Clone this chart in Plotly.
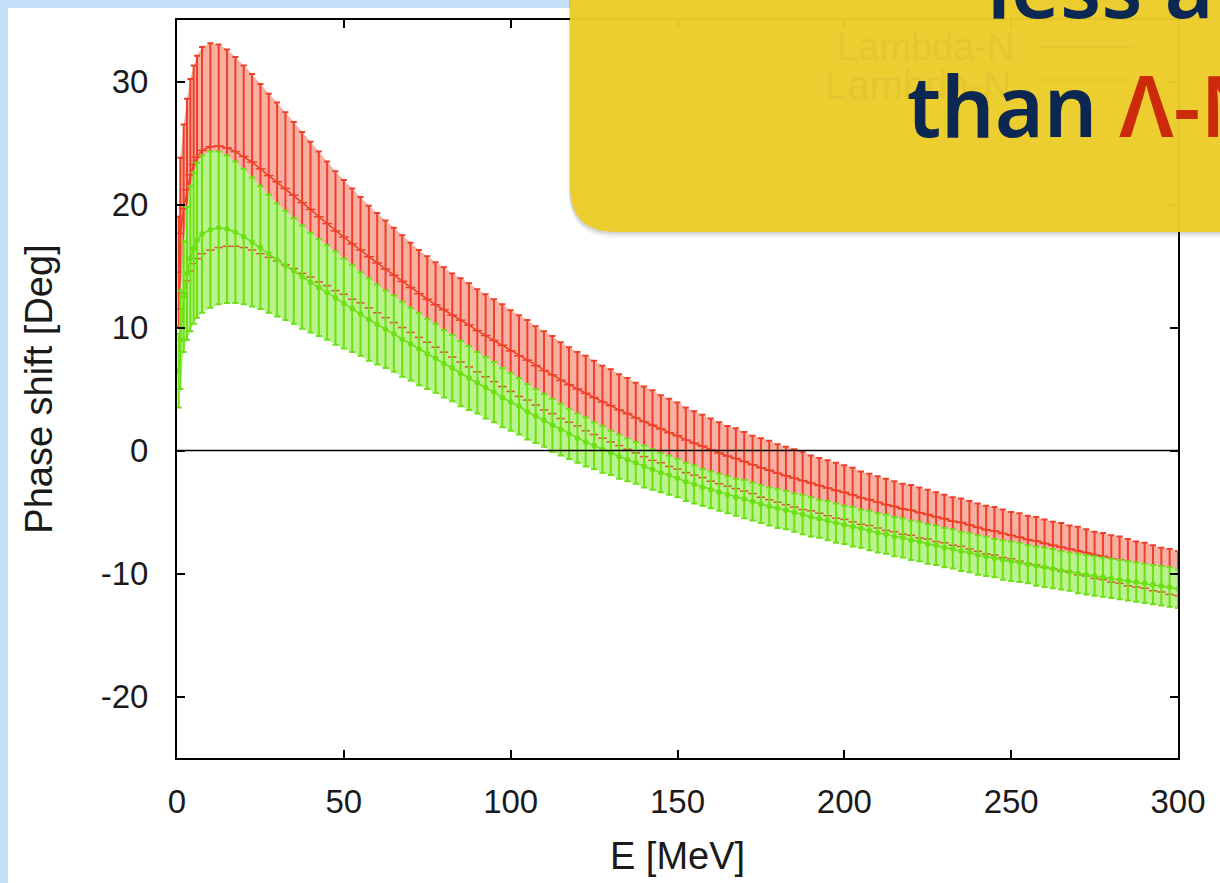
import plotly.graph_objects as go

# ---------------- data ----------------
E = [0.5, 1, 2, 3, 4, 5, 6, 7.5,
     10, 12.5, 15, 17.5, 20, 22.5, 25, 27.5, 30, 32.5,
     35, 37.5, 40, 42.5, 45, 47.5, 50, 52.5, 55, 57.5,
     60, 62.5, 65, 67.5, 70, 72.5, 75, 77.5, 80, 82.5,
     85, 87.5, 90, 92.5, 95, 97.5, 100, 102.5, 105, 107.5,
     110, 112.5, 115, 117.5, 120, 122.5, 125, 127.5, 130, 132.5,
     135, 137.5, 140, 142.5, 145, 147.5, 150, 152.5, 155, 157.5,
     160, 162.5, 165, 167.5, 170, 172.5, 175, 177.5, 180, 182.5,
     185, 187.5, 190, 192.5, 195, 197.5, 200, 202.5, 205, 207.5,
     210, 212.5, 215, 217.5, 220, 222.5, 225, 227.5, 230, 232.5,
     235, 237.5, 240, 242.5, 245, 247.5, 250, 252.5, 255, 257.5,
     260, 262.5, 265, 267.5, 270, 272.5, 275, 277.5, 280, 282.5,
     285, 287.5, 290, 292.5, 295, 297.5, 300]

# upper / lower ends of the error bars, Lambda-N (red)
red_hi = [19.0, 23.8, 26.5, 28.6, 30.2, 31.3, 32.1, 32.8,
          33.1, 33.0, 32.6, 32.0, 31.3, 30.6, 29.8, 29.0, 28.3, 27.5,
          26.7, 25.9, 25.1, 24.3, 23.5, 22.7, 22.0, 21.3, 20.6, 19.9,
          19.3, 18.7, 18.1, 17.5, 16.9, 16.3, 15.8, 15.3, 14.9, 14.4,
          14.0, 13.6, 13.1, 12.7, 12.3, 11.9, 11.4, 11.0, 10.6, 10.1,
          9.7, 9.3, 8.8, 8.4, 8.0, 7.7, 7.3, 6.9, 6.6, 6.2,
          5.9, 5.5, 5.2, 4.9, 4.5, 4.2, 3.9, 3.5, 3.2, 2.9,
          2.6, 2.3, 2.0, 1.8, 1.5, 1.2, 1.0, 0.8, 0.5, 0.3,
          0.1, -0.1, -0.4, -0.6, -0.8, -1.0, -1.2, -1.4, -1.7, -1.9,
          -2.1, -2.3, -2.5, -2.7, -2.8, -3.0, -3.2, -3.4, -3.6, -3.8,
          -3.9, -4.1, -4.3, -4.5, -4.6, -4.8, -5.0, -5.1, -5.3, -5.4,
          -5.6, -5.8, -5.9, -6.1, -6.2, -6.4, -6.6, -6.7, -6.9, -7.0,
          -7.2, -7.4, -7.5, -7.7, -7.9, -8.0, -8.2]
red_lo = [10.0, 11.5, 12.8, 13.8, 14.6, 15.2, 15.6, 16.0,
          16.3, 16.5, 16.6, 16.6, 16.5, 16.3, 16.0, 15.7, 15.4, 15.1,
          14.8, 14.4, 14.1, 13.7, 13.4, 13.0, 12.7, 12.3, 12.0, 11.6,
          11.2, 10.8, 10.4, 10.0, 9.6, 9.2, 8.8, 8.4, 8.0, 7.6,
          7.2, 6.8, 6.4, 6.0, 5.6, 5.2, 4.8, 4.4, 4.1, 3.7,
          3.3, 3.0, 2.6, 2.3, 2.0, 1.6, 1.3, 1.0, 0.7, 0.4,
          0.1, -0.2, -0.5, -0.8, -1.0, -1.3, -1.5, -1.8, -2.0, -2.2,
          -2.5, -2.7, -2.9, -3.1, -3.3, -3.5, -3.8, -4.0, -4.2, -4.4,
          -4.6, -4.8, -4.9, -5.1, -5.3, -5.5, -5.6, -5.8, -6.0, -6.1,
          -6.3, -6.5, -6.6, -6.8, -6.9, -7.1, -7.2, -7.4, -7.5, -7.7,
          -7.8, -8.0, -8.2, -8.4, -8.5, -8.7, -8.8, -9.0, -9.2, -9.3,
          -9.5, -9.6, -9.8, -9.9, -10.1, -10.2, -10.4, -10.5, -10.7, -10.8,
          -11.0, -11.1, -11.2, -11.4, -11.5, -11.7, -11.8]

# upper / lower ends of the error bars, Lambda-N (green)
green_hi = [9.5, 13.0, 17.0, 19.8, 21.5, 22.6, 23.4, 24.0,
            24.3, 24.3, 24.0, 23.5, 22.9, 22.2, 21.5, 20.8, 20.1, 19.5,
            18.9, 18.3, 17.7, 17.2, 16.7, 16.2, 15.6, 15.1, 14.5, 14.0,
            13.5, 13.0, 12.6, 12.1, 11.6, 11.2, 10.7, 10.3, 9.8, 9.4,
            8.9, 8.5, 8.0, 7.6, 7.2, 6.7, 6.3, 5.9, 5.4, 5.0,
            4.6, 4.2, 3.8, 3.4, 3.0, 2.7, 2.3, 2.0, 1.6, 1.3,
            1.0, 0.7, 0.4, 0.1, -0.2, -0.4, -0.7, -1.0, -1.2, -1.5,
            -1.7, -1.9, -2.1, -2.3, -2.4, -2.6, -2.8, -3.0, -3.1, -3.3,
            -3.5, -3.6, -3.8, -4.0, -4.1, -4.3, -4.5, -4.6, -4.8, -4.9,
            -5.1, -5.2, -5.4, -5.5, -5.7, -5.8, -6.0, -6.1, -6.3, -6.4,
            -6.6, -6.7, -6.9, -7.0, -7.2, -7.3, -7.4, -7.5, -7.7, -7.8,
            -7.9, -8.0, -8.2, -8.3, -8.4, -8.5, -8.6, -8.7, -8.8, -8.9,
            -9.0, -9.1, -9.2, -9.3, -9.4, -9.5, -9.7]
green_lo = [3.5, 5.0, 8.0, 9.0, 9.7, 10.3, 10.8, 11.2,
            11.6, 11.9, 12.0, 12.0, 11.9, 11.7, 11.5, 11.2, 10.9, 10.6,
            10.3, 9.9, 9.6, 9.3, 9.0, 8.6, 8.3, 8.0, 7.7, 7.3,
            7.0, 6.7, 6.4, 6.0, 5.7, 5.3, 5.0, 4.7, 4.3, 4.0,
            3.6, 3.3, 3.0, 2.6, 2.3, 1.9, 1.6, 1.3, 0.9, 0.6,
            0.3, -0.1, -0.4, -0.7, -1.0, -1.3, -1.5, -1.8, -2.0, -2.3,
            -2.5, -2.7, -3.0, -3.2, -3.4, -3.6, -3.8, -4.1, -4.3, -4.5,
            -4.7, -4.9, -5.1, -5.3, -5.5, -5.7, -5.9, -6.1, -6.3, -6.4,
            -6.6, -6.8, -7.0, -7.1, -7.3, -7.5, -7.6, -7.8, -7.9, -8.1,
            -8.3, -8.4, -8.6, -8.7, -8.9, -9.0, -9.2, -9.3, -9.5, -9.6,
            -9.8, -9.9, -10.1, -10.2, -10.3, -10.5, -10.6, -10.7, -10.8, -11.0,
            -11.1, -11.2, -11.3, -11.4, -11.6, -11.7, -11.8, -11.9, -12.0, -12.1,
            -12.2, -12.3, -12.4, -12.5, -12.6, -12.7, -12.8]

x_ticks = [0, 50, 100, 150, 200, 250, 300]
y_ticks = [-20, -10, 0, 10, 20, 30]
x_tick_labels = ["0", "50", "100", "150", "200", "250", "300"]
y_tick_labels = ["-20", "-10", "0", "10", "20", "30"]
series_names = ["Lambda-N", "Lambda-N"]

# ---------------- layout geometry ----------------
W, H = 1220, 883
ML, MR, MT, MB = 177, 42, 20, 125
PW, PH = W - ML - MR, H - MT - MB


def px(x):
    return (x - ML) / PW


def py(y):
    return (H - MB - y) / PH


RED = "#EE4028"
RED_FILL = "rgba(242,110,88,0.55)"
GREEN = "#6CE014"
GREEN_FILL = "rgb(186,243,142)"

c_red = [(a + b) / 2 for a, b in zip(red_hi, red_lo)]
e_red = [(a - b) / 2 for a, b in zip(red_hi, red_lo)]
c_green = [(a + b) / 2 for a, b in zip(green_hi, green_lo)]
e_green = [(a - b) / 2 for a, b in zip(green_hi, green_lo)]

fig = go.Figure()


def add_band(hi, lo, fill):
    fig.add_trace(go.Scatter(x=E, y=lo, mode="lines", line=dict(width=0),
                             showlegend=False, hoverinfo="skip"))
    fig.add_trace(go.Scatter(x=E, y=hi, mode="lines", line=dict(width=0),
                             fill="tonexty", fillcolor=fill,
                             showlegend=False, hoverinfo="skip"))


def add_bars(c, e, col, marker_symbol, msize, name):
    fig.add_trace(go.Scatter(
        x=E, y=c, mode="lines+markers", name=name,
        line=dict(color=col, width=1.5),
        marker=dict(symbol=marker_symbol, size=msize, color=col,
                    line=dict(color=col, width=1.5)),
        error_y=dict(type="data", array=e, visible=True, color=col,
                     thickness=2, width=3),
        showlegend=False))


# red series
add_band(red_hi, red_lo, RED_FILL)
add_bars(c_red, e_red, RED, "line-ew", 7, series_names[0])
# green series drawn on top; red lower caps show through its gaps
add_band(green_hi, green_lo, GREEN_FILL)
fig.add_trace(go.Scatter(x=E, y=red_lo, mode="markers",
                         marker=dict(symbol="line-ew", size=6, color=RED,
                                     line=dict(color="#D8582A", width=1.5)),
                         showlegend=False, hoverinfo="skip"))
add_bars(c_green, e_green, GREEN, "circle", 4, series_names[1])

tick_font = dict(family="Liberation Sans, Arial, sans-serif", size=33, color="#1a1a1a")
title_font = dict(family="Liberation Sans, Arial, sans-serif", size=38, color="#1a1a1a")

fig.update_xaxes(range=[0, 300], tickvals=x_ticks, ticktext=x_tick_labels,
                 ticks="inside", ticklen=8,
                 tickwidth=2, tickcolor="black", showline=True, linewidth=2,
                 linecolor="black", mirror="ticks", showgrid=False, zeroline=False,
                 tickfont=tick_font, ticklabelstandoff=13,
                 title=dict(text="E [MeV]", font=title_font, standoff=24),
                 layer="above traces")
fig.update_yaxes(range=[-25, 35], tickvals=y_ticks, ticktext=y_tick_labels,
                 ticks="inside", ticklen=8,
                 tickwidth=2, tickcolor="black", showline=True, linewidth=2,
                 linecolor="black", mirror="ticks", showgrid=False, zeroline=False,
                 tickfont=tick_font, ticklabelstandoff=20,
                 title=dict(text="Phase shift [Deg]", font=title_font, standoff=36),
                 layer="above traces")

shapes = []
# zero reference line
shapes.append(dict(type="line", xref="paper", yref="y", x0=0, x1=1, y0=0, y1=0,
                   line=dict(color="black", width=1.5), layer="above"))
# light-blue slide border
BLUE = "#C4E0F8"
shapes.append(dict(type="rect", xref="paper", yref="paper", x0=px(0), x1=px(8),
                   y0=py(H), y1=py(0), fillcolor=BLUE, line=dict(width=0), layer="below"))
shapes.append(dict(type="rect", xref="paper", yref="paper", x0=px(0), x1=px(W),
                   y0=py(8), y1=py(0), fillcolor=BLUE, line=dict(width=0), layer="below"))


def box_path(x0, ybot, r, dx=0, dy=0):
    pts = [("M", (x0 + dx, -30 + dy)), ("L", (x0 + dx, ybot - r + dy)),
           ("Q", (x0 + dx, ybot + dy), (x0 + r + dx, ybot + dy)),
           ("L", (W + 40 + dx, ybot + dy)), ("L", (W + 40 + dx, -30 + dy))]
    s = ""
    for p in pts:
        cmd = p[0]
        coords = " ".join(f"{px(a):.5f},{py(b):.5f}" for a, b in p[1:])
        s += f"{cmd} {coords} "
    return s + "Z"


# callout shadow
for off, op in ((6, 0.05), (4, 0.08), (2, 0.12)):
    shapes.append(dict(type="path", xref="paper", yref="paper",
                       path=box_path(570, 232, 46, dx=-1, dy=off),
                       fillcolor="#555555", opacity=op, line=dict(width=0), layer="above"))
# callout box (slightly translucent: the plot frame shows through faintly)
shapes.append(dict(type="path", xref="paper", yref="paper",
                   path=box_path(570, 232, 46),
                   fillcolor="#EDCD2A", opacity=0.96, line=dict(width=0), layer="above"))

# faint legend samples seen through the callout
for yy in (47, 80):
    shapes.append(dict(type="line", xref="paper", yref="paper", x0=px(1038), x1=px(1133),
                       y0=py(yy), y1=py(yy), line=dict(color="#E2C42E", width=1.5),
                       layer="above"))

NAVY = "#0B2752"
LAMBDA_RED = "#CC2A0A"
big_font = dict(family="Noto Sans, sans-serif", size=84, color=NAVY, weight=600)
legend_color = "#E4C630"

annotations = [
    dict(text=series_names[0], x=px(1016), y=py(47), xref="paper", yref="paper",
         xanchor="right", yanchor="middle", showarrow=False,
         font=dict(family="Liberation Sans, Arial, sans-serif", size=38, color=legend_color)),
    dict(text=series_names[1], x=px(1014), y=py(85), xref="paper", yref="paper",
         xanchor="right", yanchor="middle", showarrow=False,
         font=dict(family="Liberation Sans, Arial, sans-serif", size=40, color=legend_color)),
    dict(text="less attractive", x=px(985), y=py(18 - 0.388 * 84), xref="paper", yref="paper",
         xanchor="left", yanchor="middle", showarrow=False, font=big_font),
    dict(text=f"than <span style='color:{LAMBDA_RED}'>Λ-N</span>", x=px(905),
         y=py(137 - 0.388 * 84), xref="paper", yref="paper",
         xanchor="left", yanchor="middle", showarrow=False, font=big_font),
]

fig.update_layout(width=W, height=H, margin=dict(l=ML, r=MR, t=MT, b=MB, autoexpand=False),
                  paper_bgcolor="white", plot_bgcolor="white", showlegend=False,
                  shapes=shapes, annotations=annotations)

fig.write_html("out.html")
